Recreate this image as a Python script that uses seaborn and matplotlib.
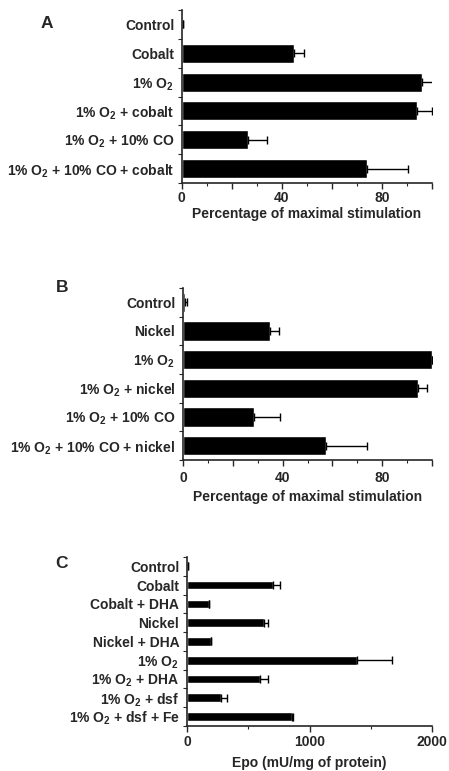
import matplotlib
matplotlib.use('Agg')
import matplotlib.pyplot as plt
import pandas as pd
import seaborn as sns
from matplotlib.ticker import MultipleLocator, FixedLocator

# panel A: cobalt
labelsA = ['Control', 'Cobalt', '1% O$_2$', '1% O$_2$ + cobalt',
           '1% O$_2$ + 10% CO', '1% O$_2$ + 10% CO + cobalt']
valuesA = [0.6, 45, 96, 94, 26.5, 74]
errorsA = [0, 4, 5, 6, 7.5, 16.5]

# panel B: nickel
labelsB = ['Control', 'Nickel', '1% O$_2$', '1% O$_2$ + nickel',
           '1% O$_2$ + 10% CO', '1% O$_2$ + 10% CO + nickel']
valuesB = [0.6, 35, 100, 94.5, 28.5, 57.5]
errorsB = [1.0, 3.5, 0, 3.5, 10.5, 16.5]

# panel C: Epo
labelsC = ['Control', 'Cobalt', 'Cobalt + DHA', 'Nickel', 'Nickel + DHA',
           '1% O$_2$', '1% O$_2$ + DHA', '1% O$_2$ + dsf', '1% O$_2$ + dsf + Fe']
valuesC = [6, 700, 180, 630, 195, 1390, 595, 280, 855]
errorsC = [0, 60, 0, 35, 0, 280, 70, 45, 10]

sns.set_style('ticks')
plt.rcParams['font.family'] = ['Liberation Sans', 'DejaVu Sans']
plt.rcParams['font.weight'] = 'bold'
plt.rcParams['mathtext.fontset'] = 'custom'
plt.rcParams['mathtext.rm'] = 'Liberation Sans:bold'
plt.rcParams['mathtext.it'] = 'Liberation Sans:bold'
plt.rcParams['mathtext.bf'] = 'Liberation Sans:bold'
plt.rcParams['mathtext.default'] = 'rm'

fig = plt.figure(figsize=(4.49, 7.71), dpi=100)
fs = 10


def panel(rect, labels, values, errors, width, xmax, major, labeled, minor,
          xlabel, letter, letter_xy, tpad, lpad):
    ax = fig.add_axes(rect)
    df = pd.DataFrame({'cond': labels, 'val': values})
    sns.barplot(data=df, x='val', y='cond', order=labels, orient='h',
                color='black', saturation=1, width=width, ax=ax)
    ys = range(len(labels))
    ax.errorbar(values, list(ys), xerr=[[0] * len(errors), errors], fmt='none',
                ecolor='black', elinewidth=1, capsize=3, capthick=1)
    ax.set_xlim(0, xmax)
    ax.set_ylim(len(labels) - 0.5, -0.5)
    ax.xaxis.set_major_locator(FixedLocator(major))
    ax.set_xticklabels([str(t) if t in labeled else '' for t in major],
                       fontsize=fs, fontweight='bold')
    ax.xaxis.set_minor_locator(MultipleLocator(minor))
    ax.tick_params(axis='x', which='major', length=4, width=1, pad=tpad)
    ax.tick_params(axis='x', which='minor', length=2, width=0.8)
    ax.set_yticks(list(ys))
    ax.set_yticklabels(labels, fontsize=fs, fontweight='bold')
    ax.set_yticks([i + 0.5 for i in range(-1, len(labels))], minor=True)
    ax.tick_params(axis='y', which='major', length=0, pad=5.5)
    ax.tick_params(axis='y', which='minor', length=3, width=0.8)
    ax.set_xlabel(xlabel, fontsize=fs, fontweight='bold', labelpad=lpad)
    ax.set_ylabel('')
    sns.despine(ax=ax)
    for s in ['left', 'bottom']:
        ax.spines[s].set_linewidth(1.2)
    fig.text(letter_xy[0], letter_xy[1], letter, fontsize=12.5,
             fontweight='bold', ha='center', va='center')
    return ax


panel([0.405, 0.7626, 0.557, 0.2244], labelsA, valuesA, errorsA, 0.66, 100,
      [0, 20, 40, 60, 80, 100], [0, 40, 80], 10,
      'Percentage of maximal stimulation', 'A', (47 / 449, 1 - 24 / 771), 2, 1.5)
panel([0.4076, 0.4034, 0.5546, 0.2231], labelsB, valuesB, errorsB, 0.68, 100,
      [0, 20, 40, 60, 80, 100], [0, 40, 80], 10,
      'Percentage of maximal stimulation', 'B', (62 / 449, 1 - 287 / 771), 4, 3.5)
panel([0.4165, 0.0584, 0.5457, 0.2192], labelsC, valuesC, errorsC, 0.46, 2000,
      [0, 1000, 2000], [0, 1000, 2000], 500,
      'Epo (mU/mg of protein)', 'C', (62 / 449, 1 - 563 / 771), 2.5, 5)

fig.savefig('out.png', dpi=100, facecolor='white')
